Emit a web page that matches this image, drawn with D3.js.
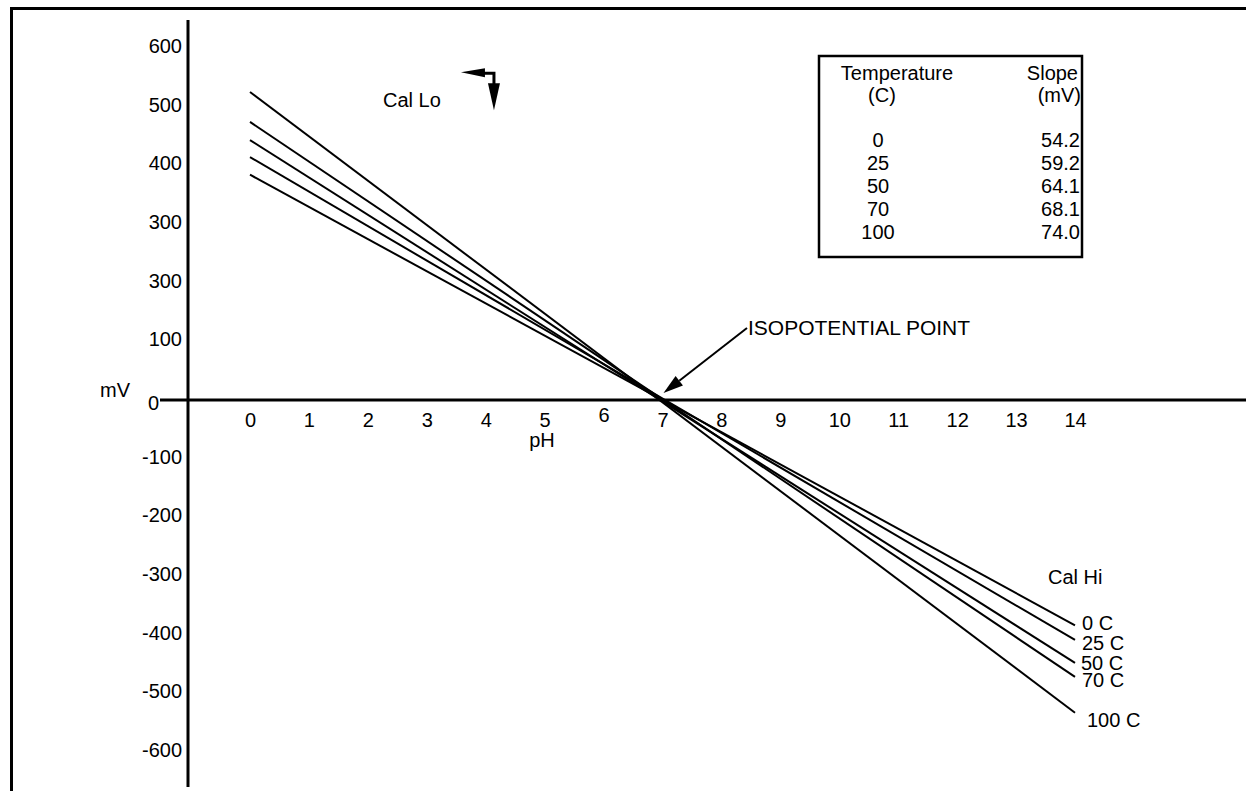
<!DOCTYPE html>
<html>
<head>
<meta charset="utf-8">
<script src="https://cdn.jsdelivr.net/npm/d3@7"></script>
<style>
  body { margin: 0; background: #fff; }
  svg { display: block; font-family: "Liberation Sans", Arial, Helvetica, sans-serif; }
</style>
</head>
<body>
<div id="chart"></div>
<script>
// values
const temperatures = [0, 25, 50, 70, 100];
const slopes = ['54.2', '59.2', '64.1', '68.1', '74.0'];
const lineLabels = ['0 C', '25 C', '50 C', '70 C', '100 C'];
const calLoMv = [384, 414, 443, 474, 525];     // mV at pH 0
const calHiMv = [-384, -409, -448, -472, -533]; // mV at pH 14
const phTicks = d3.range(0, 15);
const mvTicks = [600, 500, 400, 300, 200, 100, 0, -100, -200, -300, -400, -500, -600];
const mvTickLabels = ['600', '500', '400', '300', '300', '100', '0', '-100', '-200', '-300', '-400', '-500', '-600'];

const width = 1246;
const height = 791;
const fontSize = 20;

const x = d3.scaleLinear().domain([0, 14]).range([250, 1075]);
const y = d3.scaleLinear().domain([-600, 600]).range([752, 48]);

const svg = d3.select('#chart')
  .append('svg')
  .attr('width', width)
  .attr('height', height)
  .style('font-size', fontSize + 'px');

// page frame (top and left edges only)
svg.append('path')
  .attr('d', `M11.5,${height} V8.5 H${width}`)
  .attr('fill', 'none')
  .attr('stroke', '#000')
  .attr('stroke-width', 3);

// axis lines
svg.append('line')
  .attr('x1', 188).attr('x2', 188)
  .attr('y1', 20).attr('y2', 787)
  .attr('stroke', '#000').attr('stroke-width', 3);

svg.append('line')
  .attr('x1', 160).attr('x2', width)
  .attr('y1', y(0)).attr('y2', y(0))
  .attr('stroke', '#000').attr('stroke-width', 3);

// y tick labels
const yAxis = svg.append('g')
  .attr('transform', 'translate(188,-2)')
  .call(d3.axisLeft(y)
    .tickValues(mvTicks)
    .tickSize(0)
    .tickPadding(6)
    .tickFormat((d, i) => mvTickLabels[i]));
yAxis.select('.domain').remove();
yAxis.selectAll('text')
  .attr('font-size', fontSize)
  .attr('font-family', null)
  .attr('fill', '#000');
// the 0 label sits left of where the x axis starts
yAxis.selectAll('.tick').filter(d => d === 0).select('text')
  .attr('x', -29)
  .attr('dy', '0.55em');

// x tick labels
const xAxis = svg.append('g')
  .attr('transform', `translate(0,${y(0)})`)
  .call(d3.axisBottom(x)
    .tickValues(phTicks)
    .tickSize(0)
    .tickPadding(13)
    .tickFormat(d3.format('d')));
xAxis.select('.domain').remove();
xAxis.selectAll('text')
  .attr('font-size', fontSize)
  .attr('font-family', null)
  .attr('fill', '#000');
xAxis.selectAll('.tick').filter(d => d === 6).select('text').attr('y', 8);

// axis titles
svg.append('text').attr('x', 100).attr('y', 397).text('mV');
svg.append('text').attr('x', 542).attr('y', 447).attr('text-anchor', 'middle').text('pH');

// slope lines, one per temperature
const series = temperatures.map((t, i) => ({
  temp: t,
  label: lineLabels[i],
  pts: [[0, calLoMv[i]], [14, calHiMv[i]]]
}));

const line = d3.line().x(d => x(d[0])).y(d => y(d[1]));

svg.append('g')
  .selectAll('path')
  .data(series)
  .enter()
  .append('path')
  .attr('d', d => line(d.pts))
  .attr('fill', 'none')
  .attr('stroke', '#000')
  .attr('stroke-width', 2);

// end labels (nudged like the original)
const labelDx = [7, 7, 6, 7, 12];
const labelDy = [5, 10, 7, 10, 14];
svg.append('g')
  .selectAll('text')
  .data(series)
  .enter()
  .append('text')
  .attr('x', (d, i) => x(14) + labelDx[i])
  .attr('y', (d, i) => y(d.pts[1][1]) + labelDy[i])
  .text(d => d.label);

svg.append('text').attr('x', 1048).attr('y', 584).text('Cal Hi');

// Cal Lo with bent arrow
const calLoX = x(4.14);
const calLoY = y(557);
svg.append('text').attr('x', 383).attr('y', 107).text('Cal Lo');
svg.append('path')
  .attr('d', `M${calLoX - 10},${calLoY} H${calLoX} V${calLoY + 12}`)
  .attr('fill', 'none').attr('stroke', '#000').attr('stroke-width', 3);
svg.append('path')
  .attr('d', `M${calLoX - 33},${calLoY - 1} L${calLoX - 9},${calLoY - 5} L${calLoX - 9},${calLoY + 4} Z`)
  .attr('fill', '#000');
svg.append('path')
  .attr('d', `M${calLoX - 6},${calLoY + 10} L${calLoX + 6},${calLoY + 10} L${calLoX},${calLoY + 37} Z`)
  .attr('fill', '#000');

// isopotential point arrow
const tipX = x(7) + 1;
const tipY = y(0) - 7;
const tailX = 747, tailY = 328;
const ang = Math.atan2(tipY - tailY, tipX - tailX);
const headLen = 20, headW = 6;
const bx = tipX - headLen * Math.cos(ang), by = tipY - headLen * Math.sin(ang);
svg.append('line')
  .attr('x1', tailX).attr('y1', tailY)
  .attr('x2', bx).attr('y2', by)
  .attr('stroke', '#000').attr('stroke-width', 2);
svg.append('path')
  .attr('d', `M${tipX},${tipY} L${bx + headW * Math.sin(ang)},${by - headW * Math.cos(ang)} L${bx - headW * Math.sin(ang)},${by + headW * Math.cos(ang)} Z`)
  .attr('fill', '#000');
svg.append('text').attr('x', 748).attr('y', 335)
  .attr('font-size', 21)
  .text('ISOPOTENTIAL POINT');

// slope table
const table = svg.append('g');
table.append('rect')
  .attr('x', 819).attr('y', 56)
  .attr('width', 263).attr('height', 201)
  .attr('fill', 'none').attr('stroke', '#000').attr('stroke-width', 2.5);
table.append('text').attr('x', 897).attr('y', 80).attr('text-anchor', 'middle').text('Temperature');
table.append('text').attr('x', 882).attr('y', 102).attr('text-anchor', 'middle').text('(C)');
table.append('text').attr('x', 1078).attr('y', 80).attr('text-anchor', 'end').text('Slope');
table.append('text').attr('x', 1081).attr('y', 102).attr('text-anchor', 'end').text('(mV)');

const rowY = d3.scaleLinear().domain([0, 4]).range([147, 239]);
table.selectAll('.temp')
  .data(temperatures)
  .enter()
  .append('text')
  .attr('class', 'temp')
  .attr('x', 878)
  .attr('y', (d, i) => rowY(i))
  .attr('text-anchor', 'middle')
  .text(d => d);
table.selectAll('.slope')
  .data(slopes)
  .enter()
  .append('text')
  .attr('class', 'slope')
  .attr('x', 1080)
  .attr('y', (d, i) => rowY(i))
  .attr('text-anchor', 'end')
  .text(d => d);
</script>
</body>
</html>
